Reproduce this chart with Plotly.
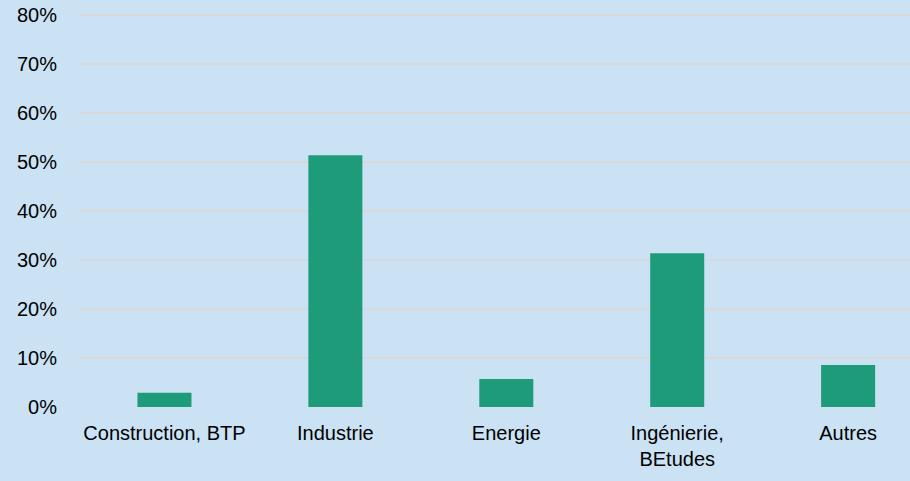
import plotly.graph_objects as go

categories = ['Construction, BTP', 'Industrie', 'Energie', 'Ingénierie,<br>BEtudes', 'Autres']
shares = [0.029, 0.514, 0.057, 0.314, 0.086]
y_ticks = [0, 0.1, 0.2, 0.3, 0.4, 0.5, 0.6, 0.7, 0.8]

bg = '#cae2f4'

fig = go.Figure()
fig.add_trace(go.Bar(x=categories, y=shares,
                     marker_color='#1e9b78',
                     marker_line_width=0,
                     hoverinfo='skip'))

fig.update_layout(
    width=910, height=481,
    margin=dict(l=79, r=0, t=14, b=74),
    paper_bgcolor=bg, plot_bgcolor=bg,
    bargap=0.684,
    showlegend=False,
    font=dict(family='Liberation Sans, Arial, sans-serif', size=20, color='#000000'),
)
fig.update_xaxes(range=[-0.5, 4.362], showgrid=False, showline=False, zeroline=False,
                 ticks='outside', ticklen=8, tickcolor='rgba(0,0,0,0)',
                 tickfont_size=20)
fig.update_yaxes(range=[0, 0.8025], tickvals=y_ticks, tickformat='.0%',
                 showgrid=True, gridcolor='#d9d9d9', gridwidth=2,
                 zeroline=False, showline=False,
                 ticks='outside', ticklen=17, tickcolor='rgba(0,0,0,0)',
                 tickfont_size=20)

# page margin off so the figure sits at the window corner
fig.write_html("out.html", config={'displayModeBar': False},
               post_script="document.body.style.margin='0';")
